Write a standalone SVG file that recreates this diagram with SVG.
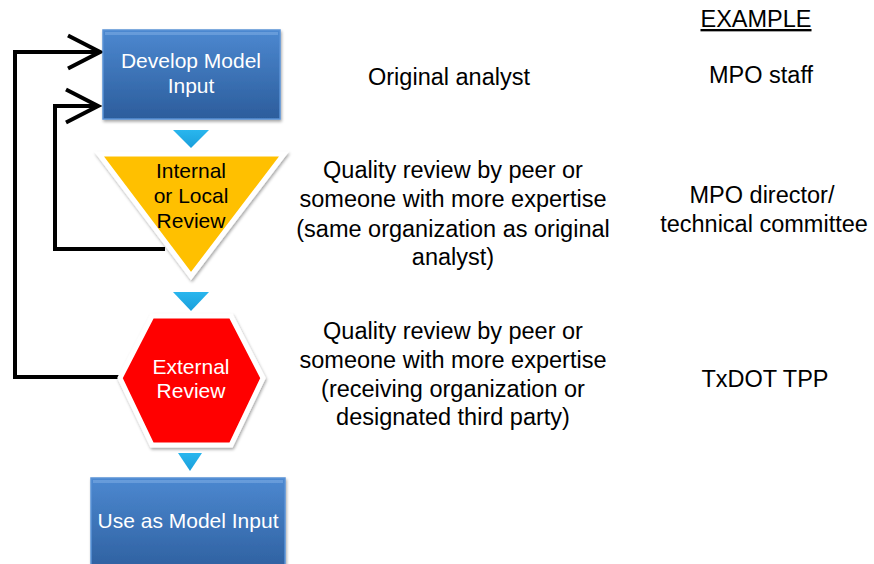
<svg xmlns="http://www.w3.org/2000/svg" width="874" height="564" viewBox="0 0 874 564">
<defs>
<linearGradient id="blue" x1="0" y1="0" x2="0" y2="1">
<stop offset="0" stop-color="#4C88D0"/>
<stop offset="1" stop-color="#2C5D9C"/>
</linearGradient>
<linearGradient id="cyan" x1="0" y1="0" x2="0" y2="1">
<stop offset="0" stop-color="#29B6EE"/>
<stop offset="1" stop-color="#1A9FDB"/>
</linearGradient>
<filter id="sh" x="-20%" y="-20%" width="140%" height="140%">
<feDropShadow dx="1" dy="2" stdDeviation="1.5" flood-color="#000" flood-opacity="0.35"/>
</filter>
<marker id="chev" markerUnits="userSpaceOnUse" viewBox="0 0 40 40" markerWidth="40" markerHeight="40" refX="36" refY="20" orient="auto">
<path d="M4,3.5 L36,20 L4,36.5" fill="none" stroke="#000" stroke-width="4" stroke-linejoin="miter"/>
</marker>
</defs>
<style>
.box{fill:url(#blue);stroke:#5A92D6;stroke-width:1.5;filter:url(#sh)}
.wt{font-family:"Liberation Sans",Arial,sans-serif;font-size:21px;fill:#fff;text-anchor:middle}
.bt{font-family:"Liberation Sans",Arial,sans-serif;font-size:21px;fill:#000;text-anchor:middle}
.desc{font-family:"Liberation Sans",Arial,sans-serif;font-size:23.5px;fill:#000;text-anchor:middle}
.loop{fill:none;stroke:#000;stroke-width:4;stroke-linejoin:miter;marker-end:url(#chev)}
.loopn{fill:none;stroke:#000;stroke-width:4;stroke-linejoin:miter}
.tri{fill:url(#cyan)}
</style>
<rect width="874" height="564" fill="#fff"/>

<g id="connectors">
<path class="loop" d="M120,377 L15,377 L15,52 L100,52"/>
<path class="loop" d="M165,249 L55,249 L55,106 L98,106"/>
<polygon class="tri" points="173,130 209,130 191,148"/>
<polygon class="tri" points="173,292 209,292 191,311"/>
<polygon class="tri" points="178,453 202,453 190,471"/>
</g>

<g id="develop">
<rect class="box" x="103" y="30" width="177" height="89"/>
<rect x="105" y="32" width="173" height="3" fill="#7AAAE2" opacity="0.6"/>
<text class="wt" x="191" y="68">Develop Model</text>
<text class="wt" x="191" y="93">Input</text>
</g>

<g id="internal">
<polygon points="99,154 284,154 191,276" fill="#FFC000" stroke="#fff" stroke-width="5" stroke-linejoin="miter" filter="url(#sh)"/>
<text class="bt" x="191" y="178">Internal</text>
<text class="bt" x="191" y="203">or Local</text>
<text class="bt" x="191" y="228">Review</text>
</g>

<g id="external">
<polygon points="120,378 152,316 231,316 263,378 231,445 152,445" fill="#FF0000" stroke="#fff" stroke-width="5" filter="url(#sh)"/>
<text class="wt" x="191" y="374">External</text>
<text class="wt" x="191" y="398">Review</text>
</g>

<g id="use">
<rect class="box" x="91" y="478" width="194" height="100"/>
<rect x="93" y="480" width="190" height="3" fill="#7AAAE2" opacity="0.6"/>
<text class="wt" x="188" y="528">Use as Model Input</text>
</g>

<g id="labels">
<text class="desc" x="449" y="85">Original analyst</text>
<text class="desc" x="453" y="178">Quality review by peer or</text>
<text class="desc" x="453" y="207">someone with more expertise</text>
<text class="desc" x="453" y="237">(same organization as original</text>
<text class="desc" x="453" y="265">analyst)</text>
<text class="desc" x="453" y="339">Quality review by peer or</text>
<text class="desc" x="453" y="368">someone with more expertise</text>
<text class="desc" x="453" y="397">(receiving organization or</text>
<text class="desc" x="453" y="425">designated third party)</text>
<text class="desc" x="756" y="27" text-decoration="underline">EXAMPLE</text>
<text class="desc" x="761" y="83">MPO staff</text>
<text class="desc" x="762" y="203">MPO director/</text>
<text class="desc" x="764" y="232">technical committee</text>
<text class="desc" x="765" y="387">TxDOT TPP</text>
</g>
</svg>
